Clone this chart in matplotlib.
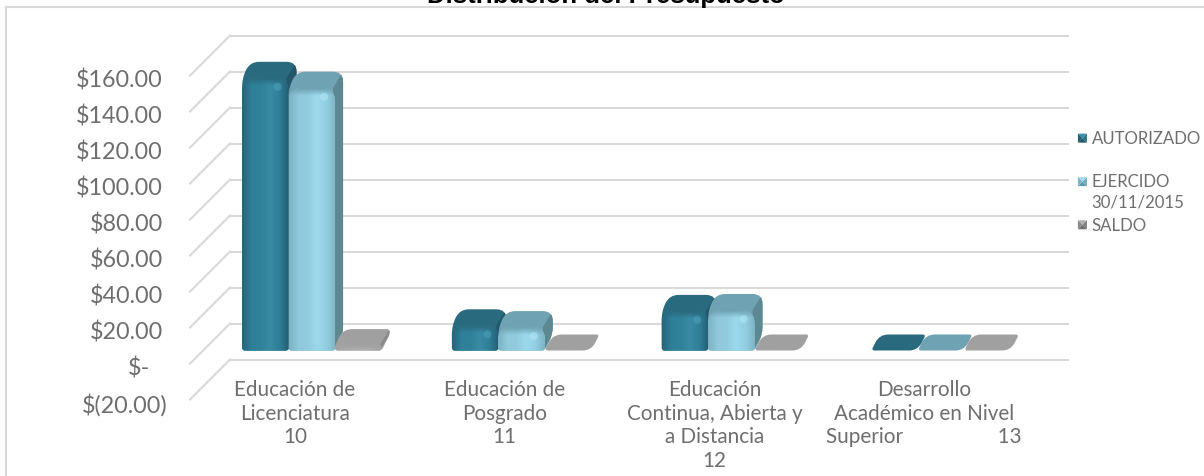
import numpy as np
import matplotlib
matplotlib.use("Agg")
import matplotlib.pyplot as plt
import matplotlib.colors as mcolors
from matplotlib.path import Path
from matplotlib.patches import PathPatch, Patch, Polygon, Circle
from matplotlib.transforms import Affine2D, IdentityTransform
from matplotlib.legend_handler import HandlerBase
from matplotlib.lines import Line2D

# ---------- data ----------
categories = ["Educación de\nLicenciatura\n10",
              "Educación de\nPosgrado\n11",
              "Educación\nContinua, Abierta y\na Distancia\n12",
              "Desarrollo\nAcadémico en Nivel\nSuperior                  13"]
autorizado = [151.5, 14.0, 22.0, 0.0]
ejercido = [146.0, 13.0, 22.5, 0.0]
saldo = [3.0, 0.0, 0.0, 0.0]
y_ticks = [-20, 0, 20, 40, 60, 80, 100, 120, 140, 160]
y_labels = ["$(20.00)", "$-", "$20.00", "$40.00", "$60.00", "$80.00",
            "$100.00", "$120.00", "$140.00", "$160.00"]
series_names = ["AUTORIZADO\n", "EJERCIDO\n30/11/2015", "SALDO"]
title_text = "Distribución del Presupuesto"

# ---------- style ----------
W, H = 1204, 477
FONT = "Lato"
TXT = "#6e6e6e"
GRID = "#d9d9d9"
styles = [
    dict(top="#2a6a7e", side="#22576a", hi="#58a9c2", edge=["#26657a", "#2f7f99", "#2f8199", "#3a8aa4", "#2f7f99", "#235e72"]),
    dict(top="#6fa2b2", side="#5d8791", hi="#b9eefc", edge=["#7cb3c2", "#90c9dc", "#92cbdd", "#9cd9ec", "#93cfe2", "#7fb5c5"]),
    dict(top="#a0a0a0", side="#8a8a8a", hi="#d0d0d0", edge=["#a8a8a8", "#b8b8b8", "#bdbdbd", "#c4c4c4", "#bbbbbb", "#a0a0a0"]),
]
BAR_W = 0.2217
DX, DY = 8, 16        # top-face depth, px
FX, FY = 17, 13       # bar plane relative to the front of the floor, px
BX, BY = 40, 40       # back wall relative to the front, px


def rounded(pts, radii):
    clean = []
    rr = []
    for p, r in zip(pts, radii):
        if not clean or np.hypot(*(np.array(p) - clean[-1])) > 0.5:
            clean.append(np.array(p, float))
            rr.append(r)
    if np.hypot(*(clean[0] - clean[-1])) < 0.5:
        clean.pop()
        rr.pop()
    n = len(clean)
    verts, codes = [], []
    for i in range(n):
        p, a, b = clean[i], clean[i - 1], clean[(i + 1) % n]
        la, lb = np.hypot(*(a - p)), np.hypot(*(b - p))
        c = min(rr[i], la / 2, lb / 2)
        s = p + (a - p) / la * c
        e = p + (b - p) / lb * c
        verts.append(s)
        codes.append(Path.MOVETO if i == 0 else Path.LINETO)
        verts += [p, e]
        codes += [Path.CURVE3, Path.CURVE3]
    verts.append(verts[0])
    codes.append(Path.CLOSEPOLY)
    return Path(verts, codes)


class HandlerBevel(HandlerBase):
    def __init__(self, lift, cols):
        super().__init__()
        self.lift, self.cols = lift, cols

    def create_artists(self, legend, orig, xd, yd, width, height, fontsize, trans):
        s = 9 * 0.72
        x0, y0 = width - s, self.lift + 0.5
        c = (x0 + s / 2, y0 + s / 2)
        a, b, d, e = (x0, y0), (x0 + s, y0), (x0 + s, y0 + s), (x0, y0 + s)
        return [Polygon([p, q, c], closed=True, fc=col, ec="none", transform=trans)
                for (p, q), col in zip([(a, b), (b, d), (d, e), (e, a)], self.cols)]


fig = plt.figure(figsize=(W / 100, H / 100), dpi=100, facecolor="white")
ax = fig.add_axes([190 / W, (H - 400.5) / H, 839 / W, 324 / H])
ax.patch.set_visible(False)
for sp in ax.spines.values():
    sp.set_visible(False)
ax.set_xlim(-0.5, 3.5)
ax.set_ylim(-20, 160)
ax.set_autoscale_on(False)

fig.canvas.draw()
back_tf = ax.transData + Affine2D().translate(BX, BY)
bar_tf = ax.transData + Affine2D().translate(FX, FY)

# walls
ax.hlines(y_ticks, -0.5, 3.5, colors=GRID, lw=1.5, transform=back_tf, clip_on=False, zorder=1)
for v in y_ticks:
    x0, y0 = ax.transData.transform((-0.5, v))
    ax.add_line(Line2D([x0, x0 + BX], [y0, y0 + BY], color=GRID, lw=1.5,
                       transform=IdentityTransform(), clip_on=False, zorder=1))

# bars
x = np.arange(len(categories))
offsets = [-BAR_W, 0, BAR_W]
z = 2.0
for i in range(len(categories)):
    for k, vals in enumerate([autorizado, ejercido, saldo]):
        st = styles[k]
        xc = x[i] + offsets[k]
        rect = ax.bar(xc, vals[i], BAR_W, bottom=0, color=st["edge"][1], linewidth=0,
                      transform=bar_tf, zorder=z + 0.3)[0]
        xa, ya = bar_tf.transform((xc - BAR_W / 2, 0))
        xb, yt = bar_tf.transform((xc + BAR_W / 2, vals[i]))
        h = yt - ya
        sil = rounded([(xa, ya), (xb, ya), (xb + DX, ya + DY), (xb + DX, yt + DY),
                       (xa + DX, yt + DY), (xa, yt)],
                      [3, 3, 8, 10, 12, 18] if h > 1 else [3, 9, 3, 9, 9, 9])
        ax.add_patch(PathPatch(sil, fc=st["top"], ec="none", transform=IdentityTransform(),
                               clip_on=False, zorder=z))
        if h > 1:
            side = Polygon([(xb - 2, ya), (xb + DX, ya + DY), (xb + DX, yt + DY), (xb - 2, yt)],
                           closed=True, fc=st["side"], ec="none",
                           transform=IdentityTransform(), zorder=z + 0.1)
            ax.add_patch(side)
            side.set_clip_box(None)
            side.set_clip_path(sil, IdentityTransform())
            r = min(14, h)
            front = rounded([(xa, ya), (xb, ya), (xb, yt), (xa, yt)], [3, 3, r, r])
            rect.set_clip_box(None)
            rect.set_clip_path(front, IdentityTransform())
            cm = mcolors.LinearSegmentedColormap.from_list("g", st["edge"])
            rows = max(int(round(h)), 2)
            grad = np.repeat(cm(np.linspace(0, 1, 64))[None, :, :3], rows, axis=0)
            fade = np.clip(1 - np.arange(rows) / 7.0, 0, 1)[:, None, None]
            grad = grad * (1 - fade) + np.array(mcolors.to_rgb(st["top"]))[None, None, :] * fade
            im = ax.imshow(grad, aspect="auto",
                           extent=(xc - BAR_W / 2, xc + BAR_W / 2, 0, vals[i]),
                           transform=bar_tf, zorder=z + 0.4, interpolation="bilinear")
            im.set_clip_box(None)
            im.set_clip_path(front, IdentityTransform())
            if h > 20:
                spot = Circle((xb - 11, yt - 9), 4, fc=st["hi"], ec="none", alpha=0.45,
                              transform=IdentityTransform(), zorder=z + 0.5)
                ax.add_patch(spot)
                spot.set_clip_box(None)
                spot.set_clip_path(front, IdentityTransform())
        else:
            rect.set_visible(False)
        z += 1.0
ax.set_xlim(-0.5, 3.5)
ax.set_ylim(-20, 160)

# axes text
ax.set_yticks(y_ticks)
ax.set_yticklabels(y_labels, fontfamily=FONT, fontsize=16.8, color=TXT)
ax.tick_params(axis="y", length=0, pad=19.4)
for lab, txt in zip(ax.get_yticklabels(), y_labels):
    shift = {"$(20.00)": 4, "$-": -13}.get(txt, 0)
    lab.set_transform(lab.get_transform() + Affine2D().translate(shift, -2.5))
ax.set_xticks(x)
ax.set_xticklabels(categories, fontfamily=FONT, fontsize=14.9, color=TXT, linespacing=1.24)
ax.tick_params(axis="x", length=0, pad=-15)
for lab in ax.get_xticklabels():
    lab.set_va("top")

# chart frame and title
fig.add_artist(Line2D([5.5 / W, 5.5 / W], [0, (H - 7.5) / H], color=GRID, lw=1.5))
fig.add_artist(Line2D([5.5 / W, 1], [(H - 7.5) / H] * 2, color=GRID, lw=1.5))
fig.text(606 / W, (H - 3) / H, title_text, ha="center", va="baseline", fontsize=18.5,
         fontweight="bold", family="Liberation Sans", color="black", zorder=10)

# legend
bevels = [["#1f5a6a", "#2a7288", "#3c8ea6", "#1f5f74"],
          ["#5f9aac", "#6fa9bb", "#a3dbea", "#78b5c8"],
          ["#6f6f6f", "#7d7d7d", "#b0b0b0", "#8a8a8a"]]
handles = [Patch(label=n) for n in series_names]
lifts = [8, 8, 0]
leg = fig.legend(handles=handles, labels=series_names, loc="upper left",
                 bbox_to_anchor=(1076 / W, (H - 131) / H), frameon=False, borderpad=0,
                 borderaxespad=0, handlelength=0.65, handletextpad=0.28, labelspacing=0.45,
                 prop=dict(family=FONT, size=12.1), labelcolor=TXT,
                 handler_map={h: HandlerBevel(l, b) for h, l, b in zip(handles, lifts, bevels)})
for t in leg.get_texts():
    t.set_linespacing(1.3)

fig.savefig("out.png", dpi=100, facecolor="white")
